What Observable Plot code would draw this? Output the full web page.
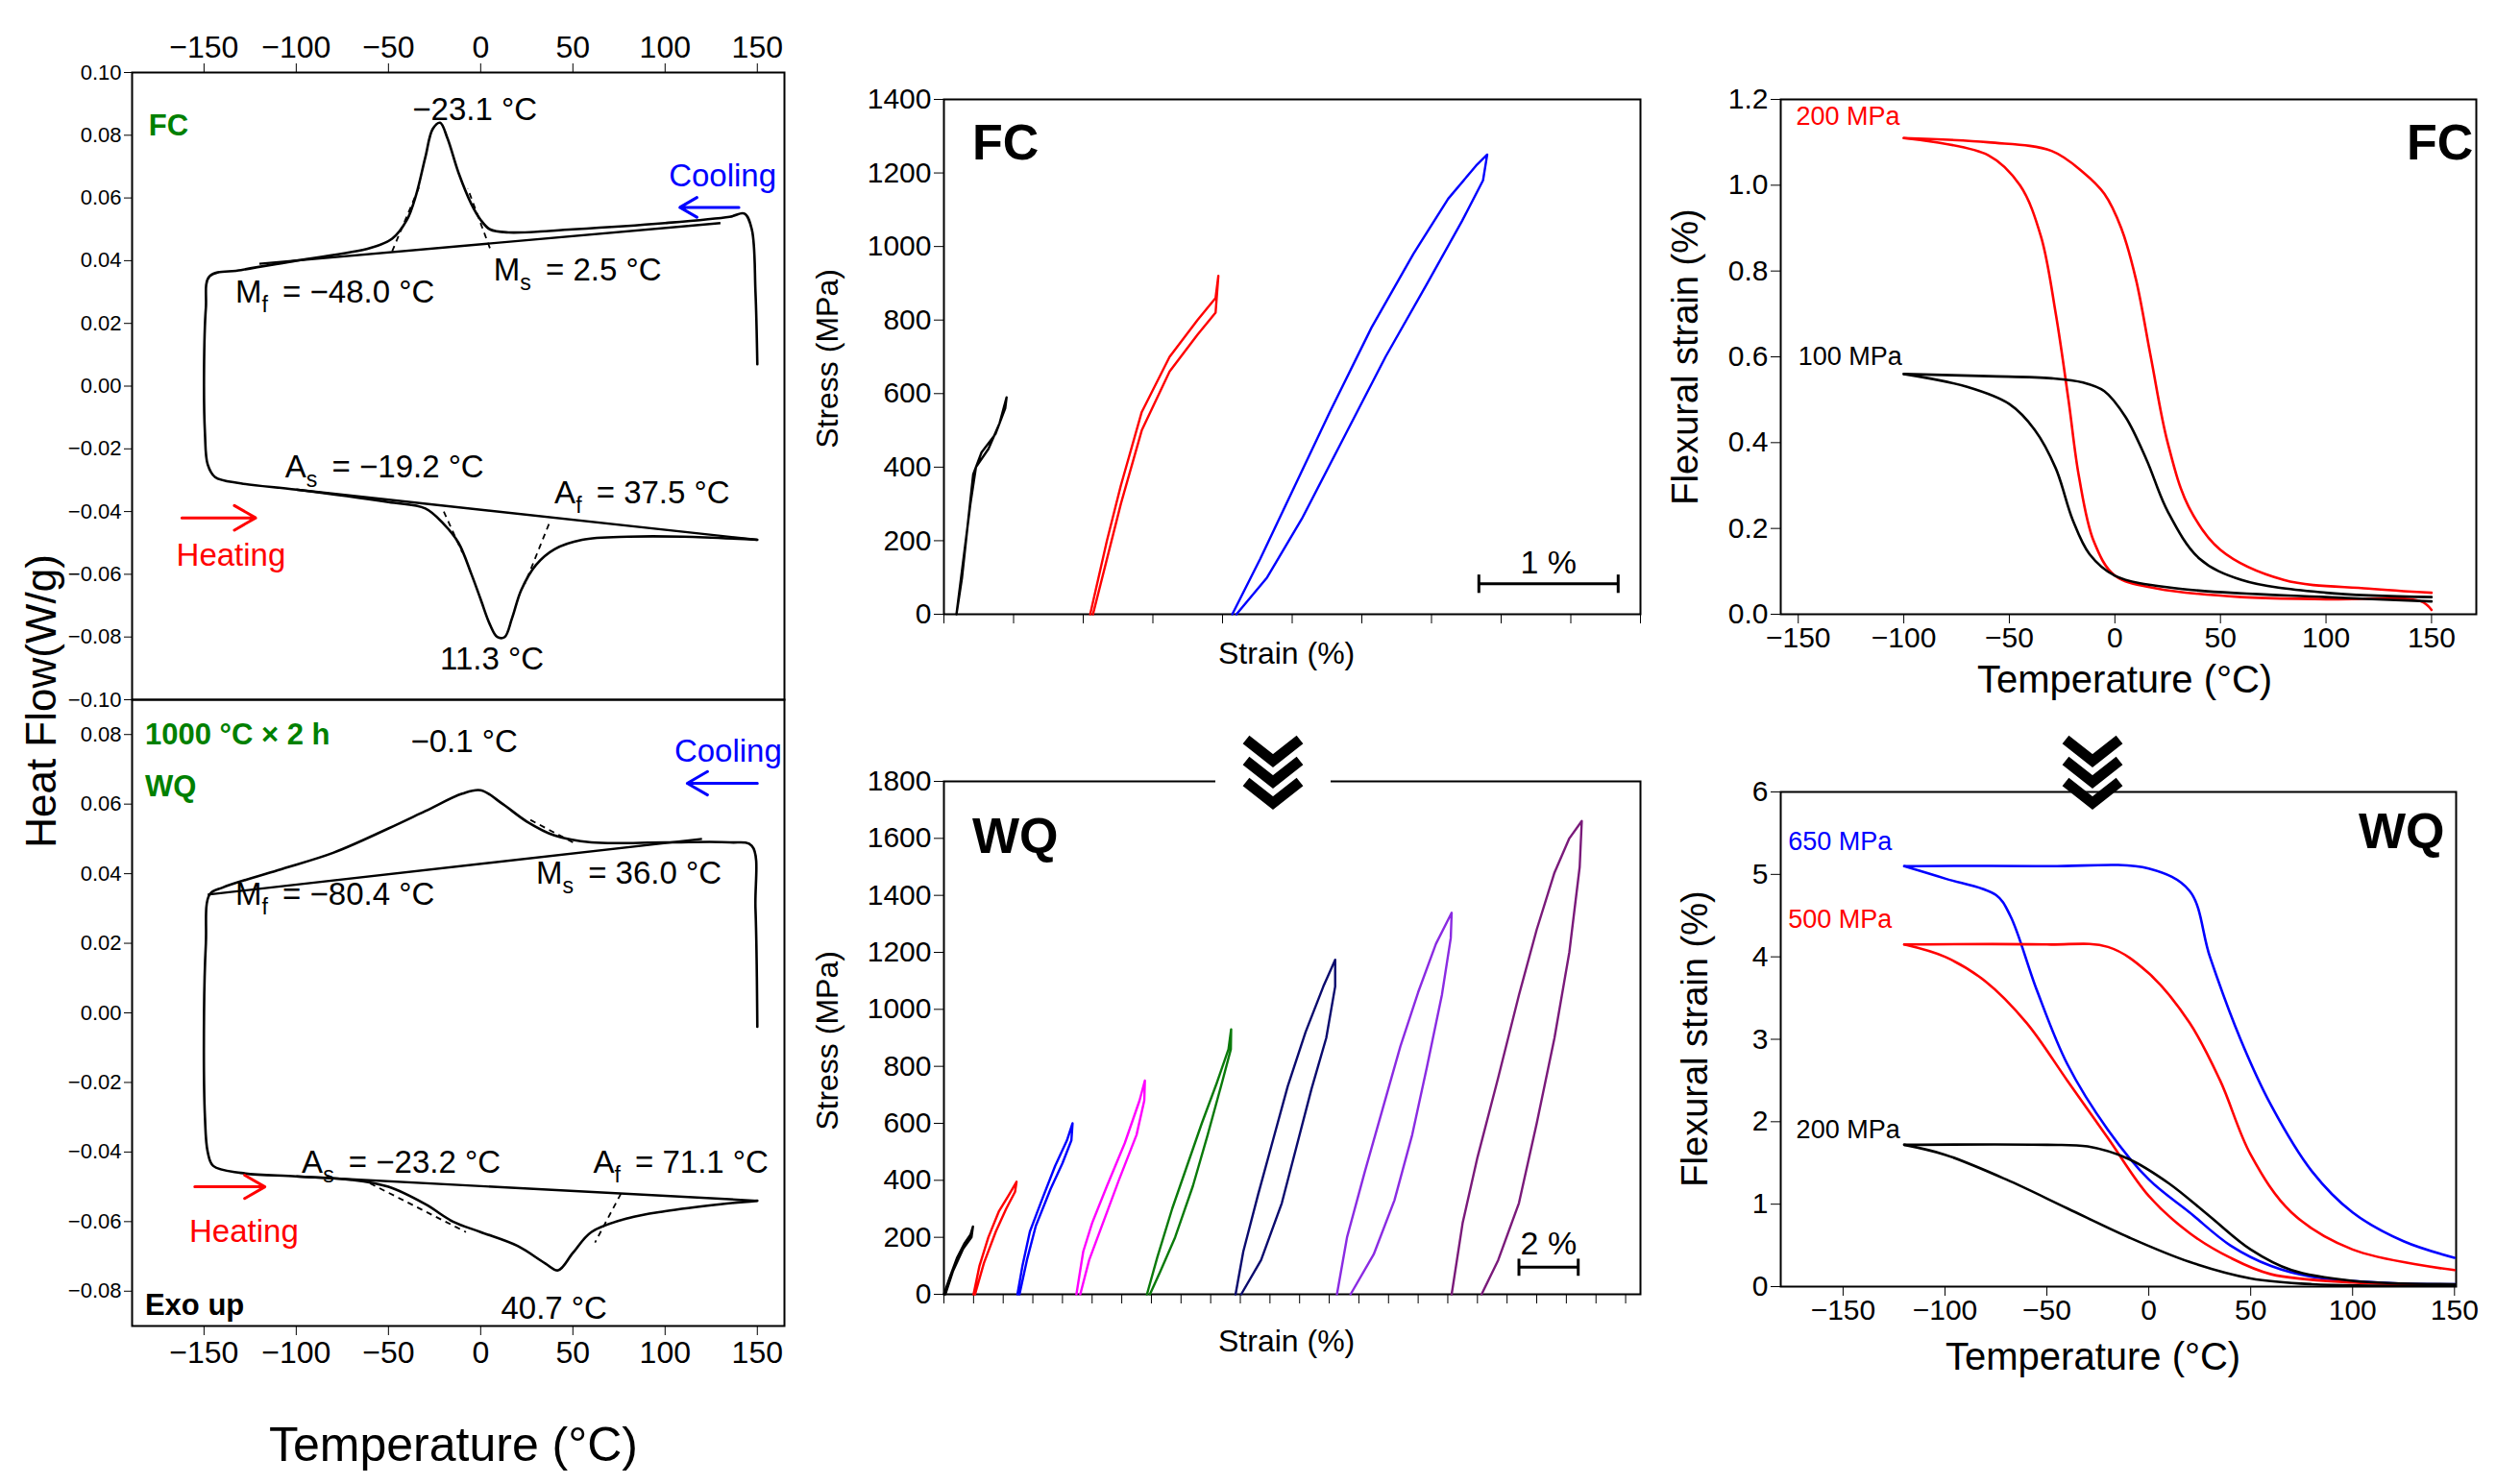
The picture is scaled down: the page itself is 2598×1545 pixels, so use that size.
<!DOCTYPE html>
<html><head><meta charset="utf-8">
<script src="https://cdn.jsdelivr.net/npm/d3@7"></script>
<script src="https://cdn.jsdelivr.net/npm/@observablehq/plot@0.6"></script>
<style>
body{margin:0;background:#fff;font-family:"Liberation Sans",Arial,sans-serif;}
#root{position:relative;width:2598px;height:1545px;overflow:hidden;}
.abs{position:absolute;}
svg{overflow:visible}
</style></head><body><div id="root"></div>
<script>
// ---------- DATA ----------
const dscFC = [[150,0.007],[149,0.03],[147,0.05],[143,0.055],[135,0.054],[100,0.052],[50,0.050],[15,0.049],[5,0.050],[0,0.053],[-5,0.058],[-12,0.068],[-18,0.079],[-22,0.084],[-26,0.082],[-30,0.073],[-35,0.061],[-40,0.053],[-48,0.047],[-60,0.044],[-100,0.040],[-130,0.037],[-147,0.035],[-149,0.025],[-150,0.005],[-149.5,-0.015],[-148,-0.025],[-144,-0.029],[-130,-0.031],[-100,-0.033],[-50,-0.037],[-30,-0.039],[-20,-0.044],[-12,-0.050],[-5,-0.060],[0,-0.068],[5,-0.076],[9,-0.080],[13,-0.080],[17,-0.074],[22,-0.065],[30,-0.057],[40,-0.052],[55,-0.049],[80,-0.048],[110,-0.048],[150,-0.049]];
const dscFCbase = [[[-120,0.039],[130,0.052]],[[-100,-0.033],[150,-0.049]]];
const dscFCdash = [[[-48,0.043],[-33,0.064]],[[5,0.044],[-7,0.063]],[[-20,-0.040],[-10,-0.053]],[[37,-0.044],[24,-0.063]]];
const dscWQ = [[150,-0.004],[149,0.030],[147,0.048],[135,0.049],[100,0.049],[60,0.049],[40,0.051],[25,0.055],[12,0.060],[0,0.064],[-10,0.063],[-30,0.058],[-50,0.053],[-80,0.046],[-110,0.041],[-140,0.036],[-147,0.034],[-149,0.02],[-150,0.0],[-149.5,-0.03],[-148,-0.040],[-145,-0.044],[-130,-0.046],[-100,-0.047],[-70,-0.048],[-50,-0.050],[-30,-0.055],[-15,-0.060],[0,-0.063],[20,-0.067],[35,-0.072],[42,-0.074],[50,-0.069],[60,-0.063],[80,-0.059],[100,-0.057],[130,-0.055],[150,-0.054]];
const dscWQbase = [[[-148,0.034],[120,0.050]],[[-100,-0.047],[150,-0.054]]];
const dscWQdash = [[[50,0.049],[25,0.056]],[[-60,-0.049],[-8,-0.063]],[[76,-0.052],[62,-0.066]]];
const ssFC_black = [[0.09,0],[0.14,150],[0.19,300],[0.23,400],[0.32,450],[0.40,520],[0.45,590],[0.44,560],[0.37,490],[0.27,440],[0.21,380],[0.13,100],[0.09,0]];
const ssFC_red = [[1.05,0],[1.17,200],[1.27,350],[1.42,550],[1.62,700],[1.82,800],[1.95,860],[1.97,920],[1.95,820],[1.82,760],[1.62,660],[1.42,500],[1.27,300],[1.07,0]];
const ssFC_blue = [[2.07,0],[2.27,150],[2.52,350],[2.77,550],[3.07,780],[3.37,980],[3.62,1130],[3.82,1220],[3.90,1250],[3.87,1180],[3.72,1070],[3.47,900],[3.17,700],[2.87,480],[2.57,260],[2.32,100],[2.10,0]];
const ssWQ_black = [[0,0],[0.2,60],[0.45,130],[0.7,180],[0.9,210],[0.98,238],[0.93,200],[0.65,160],[0.3,80],[0.05,0]];
const ssWQ_red = [[1.0,0],[1.2,100],[1.5,200],[1.85,290],[2.2,350],[2.45,395],[2.4,360],[2.1,300],[1.75,220],[1.35,110],[1.05,0]];
const ssWQ_blue = [[2.48,0],[2.65,100],[2.9,220],[3.3,330],[3.75,450],[4.15,540],[4.34,600],[4.3,540],[4.0,460],[3.6,370],[3.1,240],[2.8,120],[2.55,0]];
const ssWQ_magenta = [[4.47,0],[4.7,150],[5.0,250],[5.5,380],[6.1,530],[6.6,680],[6.78,750],[6.76,680],[6.5,560],[5.9,400],[5.4,260],[4.9,120],[4.6,0]];
const ssWQ_green = [[6.85,0],[7.2,130],[7.7,300],[8.2,450],[8.7,600],[9.2,740],[9.6,860],[9.69,930],[9.68,860],[9.4,750],[8.9,560],[8.4,380],[7.8,200],[7.3,80],[6.95,0]];
const ssWQ_navy = [[9.84,0],[10.1,150],[10.6,350],[11.1,540],[11.6,730],[12.2,920],[12.8,1080],[13.2,1174],[13.2,1080],[12.9,900],[12.4,720],[11.9,520],[11.4,320],[10.7,120],[10.03,0]];
const ssWQ_violet = [[13.26,0],[13.6,200],[14.2,430],[14.8,650],[15.4,870],[16.0,1060],[16.6,1230],[17.13,1339],[17.1,1250],[16.8,1050],[16.3,800],[15.8,560],[15.2,330],[14.5,140],[13.72,0]];
const ssWQ_purple = [[17.13,0],[17.5,250],[18.0,480],[18.7,760],[19.4,1050],[20.0,1280],[20.6,1480],[21.1,1600],[21.52,1661],[21.45,1500],[21.1,1200],[20.6,900],[20.0,600],[19.4,320],[18.7,120],[18.14,0]];
const fxFC_200a = [[-100,1.11],[-60,1.10],[-30,1.08],[-15,1.03],[-5,0.98],[3,0.90],[10,0.78],[17,0.60],[25,0.40],[35,0.25],[50,0.15],[80,0.08],[120,0.06],[150,0.05]];
const fxFC_200b = [[-100,1.11],[-60,1.07],[-45,1.00],[-35,0.88],[-28,0.70],[-22,0.50],[-17,0.32],[-10,0.17],[0,0.09],[20,0.06],[60,0.04],[100,0.035],[145,0.03],[150,0.01]];
const fxFC_100a = [[-100,0.56],[-60,0.555],[-30,0.55],[-15,0.54],[-5,0.52],[5,0.46],[15,0.36],[25,0.24],[40,0.13],[60,0.08],[100,0.05],[150,0.04]];
const fxFC_100b = [[-100,0.56],[-70,0.53],[-50,0.49],[-38,0.43],[-28,0.34],[-20,0.22],[-12,0.14],[0,0.09],[30,0.06],[100,0.04],[150,0.03]];
const fxWQ_650a = [[-120,5.1],[-50,5.1],[0,5.07],[20,4.8],[30,4.0],[45,3.0],[60,2.2],[80,1.4],[100,0.9],[125,0.55],[150,0.35]];
const fxWQ_650b = [[-120,5.1],[-100,4.95],[-75,4.75],[-68,4.5],[-55,3.6],[-40,2.7],[-20,1.9],[0,1.3],[20,0.9],[40,0.5],[60,0.25],[80,0.12],[120,0.04],[150,0.03]];
const fxWQ_500a = [[-120,4.15],[-50,4.15],[-20,4.12],[0,3.8],[20,3.2],[35,2.5],[50,1.6],[70,0.9],[100,0.45],[150,0.2]];
const fxWQ_500b = [[-120,4.15],[-100,4.0],[-80,3.7],[-60,3.2],[-40,2.5],[-20,1.8],[0,1.1],[20,0.65],[40,0.35],[60,0.15],[100,0.05],[150,0.02]];
const fxWQ_200a = [[-120,1.72],[-50,1.72],[-30,1.7],[-10,1.55],[10,1.25],[30,0.85],[50,0.45],[70,0.2],[100,0.07],[150,0.03]];
const fxWQ_200b = [[-120,1.72],[-100,1.6],[-70,1.3],[-40,0.95],[-10,0.6],[20,0.3],[50,0.1],[80,0.03],[150,0.01]];
const tempTicks = [-150,-100,-50,0,50,100,150];

// ---------- helpers ----------
const root = document.getElementById("root");
const FONT = "Liberation Sans, Arial, sans-serif";
function place(svg, left, top){ svg.style.position="absolute"; svg.style.left=left+"px"; svg.style.top=top+"px"; root.append(svg); fixSub(svg); }
function fixSub(svg){
  d3.select(svg).selectAll("text").each(function(){
    const t=this.textContent;
    if(t.includes("_")){ this.innerHTML = t.replace(/_(\w)(.*)/, (m,a,b)=>`<tspan dy="10" font-size="70%">${a}</tspan><tspan dy="-10" dx="6">${b}</tspan>`); }
  });
}
function label(text,left,top,size,opts={}){
  const d=document.createElement("div"); d.className="abs"; d.textContent=text;
  Object.assign(d.style,{left:left+"px",top:top+"px",fontSize:size+"px",whiteSpace:"nowrap",fontFamily:FONT},opts);
  root.append(d); return d;
}
const lineOf = (arr,stroke,w=2.6,extra={}) => Plot.line(arr,{x:d=>d[0],y:d=>d[1],stroke,strokeWidth:w,curve:"catmull-rom",...extra});
const segs = (arr,dash) => Plot.link(arr,{x1:d=>d[0][0],y1:d=>d[0][1],x2:d=>d[1][0],y2:d=>d[1][1],stroke:"black",strokeWidth:dash?1.8:2.4,strokeDasharray:dash?"6,5":null});
const txt = (arr,opts) => Plot.text(arr,{x:d=>d[0],y:d=>d[1],text:d=>d[2],fontSize:33,textAnchor:"start",fill:"black",...opts});
const base = {style:{fontFamily:FONT,fontSize:"28px",color:"black",background:"transparent"}};

// ---------- DSC panels ----------
const dscX = [-189,164.7];
const dscTopL = [[-180,0.083,"FC"]];
const dscTopT = [[-37,0.088,"−23.1 °C"],[-133,0.030,"M_f = −48.0 °C"],[7,0.037,"M_s = 2.5 °C"],[-106,-0.026,"A_s = −19.2 °C"],[40,-0.034,"A_f = 37.5 °C"],[-22,-0.087,"11.3 °C"]];
const dscTopCool = [[102,0.067,"Cooling"]];
const dscTopHeat = [[-165,-0.054,"Heating"]];
const arrTopCool = [[140,0.057,108,0.057]];
const arrTopHeat = [[-162,-0.042,-122,-0.042]];
const dscBotL = [[-182,0.080,"1000 °C × 2 h"],[-182,0.065,"WQ"]];
const dscBotT = [[-38,0.078,"−0.1 °C"],[-133,0.034,"M_f = −80.4 °C"],[30,0.040,"M_s = 36.0 °C"],[-97,-0.043,"A_s = −23.2 °C"],[61,-0.043,"A_f = 71.1 °C"],[11,-0.085,"40.7 °C"]];
const dscBotCool = [[105,0.075,"Cooling"]];
const dscBotHeat = [[-158,-0.063,"Heating"]];
const arrBotCool = [[150,0.066,112,0.066]];
const arrBotHeat = [[-155,-0.050,-117,-0.050]];
const dscBotExo = [[-182,-0.084,"Exo up"]];
const arrow = (a,c)=>Plot.arrow(a,{x1:d=>d[0],y1:d=>d[1],x2:d=>d[2],y2:d=>d[3],stroke:c,strokeWidth:3,headLength:18});

function dsc(top){
  const ML=110, MR=20, MT= top?60:0, MB= top?0:60;
  const yt = top? d3.range(-0.10,0.101,0.02) : d3.range(-0.08,0.081,0.02);
  const p = Plot.plot({...base, width:679+ML+MR, height:(top?653:652)+MT+MB,
    marginLeft:ML, marginRight:MR, marginTop:MT, marginBottom:MB,
    x:{domain:dscX}, y:{domain: top?[-0.10,0.10]:[-0.09,0.09]},
    marks:[
      Plot.frame({stroke:"black",strokeWidth:2}),
      Plot.axisX({anchor: top?"top":"bottom", ticks:tempTicks, tickSize:10, fontSize:32, label:null, tickPadding:6}),
      Plot.axisY({anchor:"left", ticks:yt, tickFormat:d3.format(".2f"), tickSize:8, fontSize:22, label:null}),
      segs(top?dscFCbase:dscWQbase,false),
      segs(top?dscFCdash:dscWQdash,true),
      lineOf(top?dscFC:dscWQ,"black",2.6),
      txt(top?dscTopL:dscBotL,{fill:"#008000",fontWeight:"bold",fontSize:31}),
      txt(top?dscTopT:dscBotT,{}),
      txt(top?dscTopCool:dscBotCool,{fill:"blue"}),
      txt(top?dscTopHeat:dscBotHeat,{fill:"red"}),
      arrow(top?arrTopCool:arrBotCool,"blue"),
      arrow(top?arrTopHeat:arrBotHeat,"red"),
      ...(top?[]:[txt(dscBotExo,{fontWeight:"bold",fontSize:31})])
    ]});
  place(p, 137-ML, (top?75:728)-MT);
}
dsc(true); dsc(false);
label("Heat Flow(W/g)",-110,705,44,{transform:"rotate(-90deg)",transformOrigin:"center"});
label("Temperature (°C)",280,1475,50);

// ---------- stress-strain panels ----------
const ssFCbar = [[3.84,83,4.84,83]];
const ssFCbarEnds = [[3.84,58,3.84,108],[4.84,58,4.84,108]];
const ssFCbarT = [[4.34,140,"1 %"]];
const ssWQbar = [[19.4,95,21.4,95]];
const ssWQbarEnds = [[19.4,65,19.4,125],[21.4,65,21.4,125]];
const ssWQbarT = [[20.4,175,"2 %"]];
function ss(top){
  const ML=110, MR=20, MT=10, MB=75;
  const W=725, H= top?536:534;
  const ymax = top?1400:1800;
  const xmax = top?5.0:23.5;
  const bar = top?ssFCbar:ssWQbar, ends = top?ssFCbarEnds:ssWQbarEnds, barT = top?ssFCbarT:ssWQbarT;
  const lines = top ? [[ssFC_black,"black"],[ssFC_red,"red"],[ssFC_blue,"blue"]] :
    [[ssWQ_black,"black"],[ssWQ_red,"red"],[ssWQ_blue,"blue"],[ssWQ_magenta,"#ff00ff"],[ssWQ_green,"#0a7a0a"],[ssWQ_navy,"#0a0a6e"],[ssWQ_violet,"#8a2be2"],[ssWQ_purple,"#7a1a7a"]];
  const L = a=>Plot.link(a,{x1:d=>d[0],y1:d=>d[1],x2:d=>d[2],y2:d=>d[3],stroke:"black",strokeWidth:3});
  const p = Plot.plot({...base, width:W+ML+MR, height:H+MT+MB, marginLeft:ML, marginRight:MR, marginTop:MT, marginBottom:MB,
    x:{domain:[0,xmax]}, y:{domain:[0,ymax]},
    marks:[
      Plot.frame({stroke:"black",strokeWidth:2}),
      Plot.axisX({ticks: top? d3.range(0,5.01,0.5): d3.range(0,23.5,1), tickFormat:()=>"", tickSize:10, label:null}),
      Plot.axisY({ticks: d3.range(0,ymax+1,200), tickFormat:d3.format("d"), tickSize:10, fontSize:30, label:null}),
      ...lines.map(([a,c])=>lineOf(a,c,2.4,{curve:"linear"})),
      L(bar), L(ends),
      Plot.text(barT,{x:d=>d[0],y:d=>d[1],text:d=>d[2],fontSize:34})
    ]});
  place(p, 982-ML, (top?103:813)-MT);
}
ss(true); ss(false);
label("FC",1012,118,52,{fontWeight:"bold"});
label("WQ",1012,840,52,{fontWeight:"bold"});
label("Strain (%)",1268,662,32);
label("Strain (%)",1268,1378,32);
label("Stress (MPa)",768,355,32,{transform:"rotate(-90deg)",transformOrigin:"center"});
label("Stress (MPa)",768,1065,32,{transform:"rotate(-90deg)",transformOrigin:"center"});

// ---------- flexural panels ----------
const fxFCT = [[-151,1.16,"200 MPa","red"],[-150,0.6,"100 MPa","black"]];
const fxWQT = [[-177,5.4,"650 MPa","blue"],[-177,4.45,"500 MPa","red"],[-173,1.9,"200 MPa","black"]];
function fx(top){
  const ML=120, MR=25, MT=10, MB=85;
  const W= top?724:703, H= top?536:515;
  const lines = top ? [[fxFC_200a,"red"],[fxFC_200b,"red"],[fxFC_100a,"black"],[fxFC_100b,"black"]] :
    [[fxWQ_650a,"blue"],[fxWQ_650b,"blue"],[fxWQ_500a,"red"],[fxWQ_500b,"red"],[fxWQ_200a,"black"],[fxWQ_200b,"black"]];
  const p = Plot.plot({...base, width:W+ML+MR, height:H+MT+MB, marginLeft:ML, marginRight:MR, marginTop:MT, marginBottom:MB,
    x:{domain: top?[-158.3,171.2]:[-180.6,150.8]}, y:{domain: top?[0,1.2]:[0,6]},
    marks:[
      Plot.frame({stroke:"black",strokeWidth:2}),
      Plot.axisX({ticks:tempTicks, tickSize:10, fontSize:30, label:null}),
      Plot.axisY({ticks: top? d3.range(0,1.21,0.2): d3.range(0,6.1,1), tickFormat: top? d3.format(".1f"): d3.format("d"), tickSize:10, fontSize:30, label:null}),
      ...lines.map(([a,c])=>lineOf(a,c,2.6)),
      Plot.text(top?fxFCT:fxWQT,{x:d=>d[0],y:d=>d[1],text:d=>d[2],fill:d=>d[3],fontSize:27,textAnchor:"start"})
    ]});
  place(p, 1853-ML, (top?103:824)-MT);
}
fx(true); fx(false);
label("FC",2505,118,52,{fontWeight:"bold"});
label("WQ",2455,835,52,{fontWeight:"bold"});
label("Temperature (°C)",2058,685,40);
label("Temperature (°C)",2025,1390,40);
label("Flexural strain (%)",1600,350,38,{transform:"rotate(-90deg)",transformOrigin:"center"});
label("Flexural strain (%)",1610,1060,38,{transform:"rotate(-90deg)",transformOrigin:"center"});

function chev(cx,cy){
  const ns="http://www.w3.org/2000/svg";
  const s=document.createElementNS(ns,"svg"); s.setAttribute("width",120); s.setAttribute("height",90);
  s.style.position="absolute"; s.style.left=(cx-60)+"px"; s.style.top=(cy-45)+"px";
  s.innerHTML='<rect x="0" y="30" width="120" height="30" fill="white"/>'+
    [10,32,54].map(y=>`<polyline points="32,${y} 60,${y+22} 88,${y}" fill="none" stroke="black" stroke-width="11"/>`).join("");
  root.append(s);
}
chev(1325,805); chev(2178,805);
</script></body></html>
